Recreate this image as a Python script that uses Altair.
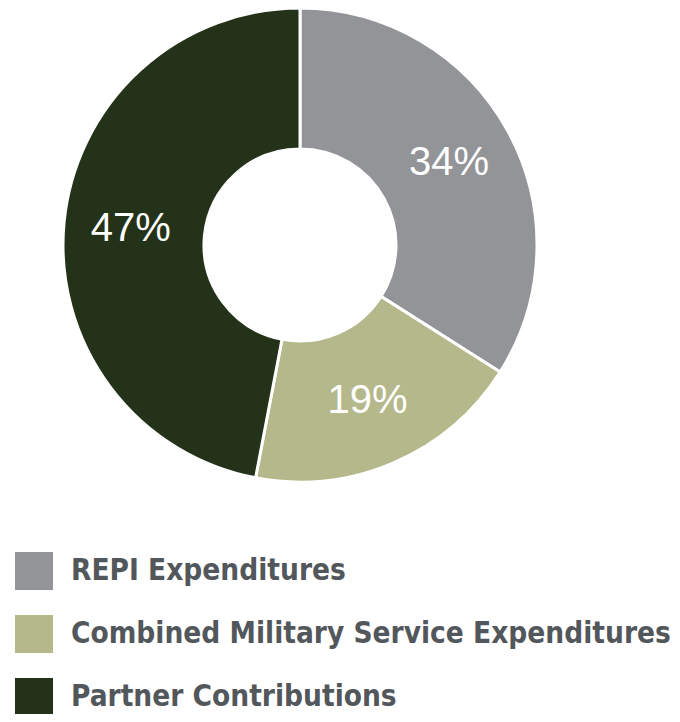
import altair as alt
import pandas as pd

categories = ["REPI Expenditures", "Combined Military Service Expenditures", "Partner Contributions"]
values = [34, 19, 47]
labels = ["34%", "19%", "47%"]
colors = ["#939498", "#b5b88a", "#233218"]

df = pd.DataFrame({"category": categories, "value": values, "label": labels, "order": [0, 1, 2]})

cx, cy = 292, 237

base = alt.Chart(df).encode(
    theta=alt.Theta("value:Q", stack=True),
    order=alt.Order("order:Q"),
)

arcs = base.mark_arc(outerRadius=237, innerRadius=96, stroke="white", strokeWidth=3).encode(
    x=alt.value(cx),
    y=alt.value(cy),
    color=alt.Color(
        "category:N",
        scale=alt.Scale(domain=categories, range=colors),
        sort=categories,
        legend=alt.Legend(
            title=None,
            orient="none",
            legendX=7,
            legendY=544,
            symbolType="square",
            symbolSize=1444,
            symbolStrokeWidth=0,
            symbolOpacity=1,
            labelFont="DejaVu Sans Condensed",
            labelFontWeight="bold",
            labelFontSize=29.5,
            labelColor="#52575c",
            labelOffset=18,
            rowPadding=25,
            padding=0,
            labelLimit=700,
        ),
    ),
)

text = base.mark_text(radius=170, font="Liberation Sans", fontSize=40, color="white").encode(
    x=alt.value(cx),
    y=alt.value(cy),
    text="label:N",
)

chart = (arcs + text).properties(
    width=664, height=706, autosize=alt.AutoSizeParams(type="none"), padding=0
).configure_view(stroke=None)

chart.save("out.html", embed_options={"renderer": "svg", "actions": False})
